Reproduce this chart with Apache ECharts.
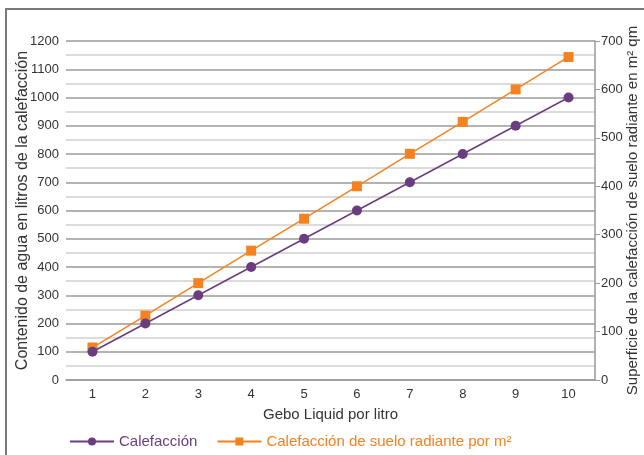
<!DOCTYPE html>
<html>
<head>
<meta charset="utf-8">
<script src="https://cdn.jsdelivr.net/npm/echarts@6/dist/echarts.min.js"></script>
<style>
  html, body { margin: 0; padding: 0; background: #fff; }
  #chart { width: 644px; height: 455px; }
</style>
</head>
<body>
<div id="chart"></div>
<script>
// Datos de la gráfica
const litros = ["1", "2", "3", "4", "5", "6", "7", "8", "9", "10"];
const calefaccion = [100, 200, 300, 400, 500, 600, 700, 800, 900, 1000];
const sueloRadiante = [67, 133, 200, 267, 333, 400, 467, 533, 600, 667];

const PURPLE = "#6a3d7e";
const ORANGE = "#f58220";
const FONT = '"Liberation Sans", Arial, sans-serif';
const INK = "#333";

const chart = echarts.init(document.getElementById("chart"), null, { renderer: "canvas" });

chart.setOption({
  animation: false,
  textStyle: { fontFamily: FONT, color: INK },
  grid: { left: 66, right: 49, top: 41, bottom: 75, outerBoundsMode: "none", containLabel: false },
  graphic: [
    {
      type: "polyline",
      shape: { points: [[6, 455], [6, 9], [644, 9]] },
      style: { stroke: "#7a7a7a", lineWidth: 2, fill: null },
      silent: true,
    },
  ],
  legend: {
    left: 64,
    top: 429,
    itemWidth: 44,
    itemHeight: 10,
    itemGap: 19,
    textStyle: { fontFamily: FONT, fontSize: 15 },
    data: [
      { name: "Calefacción", textStyle: { color: PURPLE } },
      { name: "Calefacción de suelo radiante por m²", textStyle: { color: ORANGE } },
    ],
  },
  xAxis: {
    type: "category",
    data: litros,
    boundaryGap: true,
    name: "Gebo Liquid por litro",
    nameLocation: "middle",
    nameGap: 27,
    nameMoveOverlap: false,
    nameTextStyle: { fontFamily: FONT, fontSize: 15, color: INK },
    axisLine: { lineStyle: { color: "#999", width: 1.5 } },
    axisTick: { show: false },
    axisLabel: { fontSize: 13, color: INK, margin: 8 },
  },
  yAxis: [
    {
      type: "value",
      min: 0,
      max: 1200,
      interval: 100,
      name: "Contenido de agua en litros de la calefacción",
      nameLocation: "middle",
      nameGap: 35,
      nameMoveOverlap: false,
      nameTextStyle: { fontFamily: FONT, fontSize: 16, color: INK },
      axisLine: { show: false },
      axisTick: { show: false },
      axisLabel: { fontSize: 13, color: INK, margin: 7, formatter: (v) => String(v) },
      splitLine: { show: true, lineStyle: { color: "#9a9a9a", width: 1.5 } },
      minorTick: { show: false, splitNumber: 2 },
      minorSplitLine: { show: true, lineStyle: { color: "#d0d0d0", width: 1.5 } },
    },
    {
      type: "value",
      min: 0,
      max: 700,
      interval: 100,
      position: "right",
      name: "Superficie de la calefacción de suelo radiante en m² qm",
      nameLocation: "middle",
      nameGap: 30,
      nameMoveOverlap: false,
      nameTextStyle: { fontFamily: FONT, fontSize: 15, color: INK },
      axisLine: { show: true, lineStyle: { color: "#999", width: 1.5 } },
      axisTick: { show: true, inside: false, length: 5, lineStyle: { color: "#999" } },
      axisLabel: { fontSize: 13, color: INK, margin: 6, formatter: (v) => String(v) },
      splitLine: { show: false },
    },
  ],
  series: [
    {
      name: "Calefacción",
      type: "line",
      yAxisIndex: 0,
      data: calefaccion,
      symbol: "circle",
      symbolSize: 10,
      itemStyle: { color: PURPLE },
      lineStyle: { color: PURPLE, width: 1.5 },
      z: 3,
    },
    {
      name: "Calefacción de suelo radiante por m²",
      type: "line",
      yAxisIndex: 1,
      data: sueloRadiante,
      symbol: "rect",
      symbolSize: 10,
      itemStyle: { color: ORANGE },
      lineStyle: { color: ORANGE, width: 1.5 },
      z: 2,
    },
  ],
});
</script>
</body>
</html>
